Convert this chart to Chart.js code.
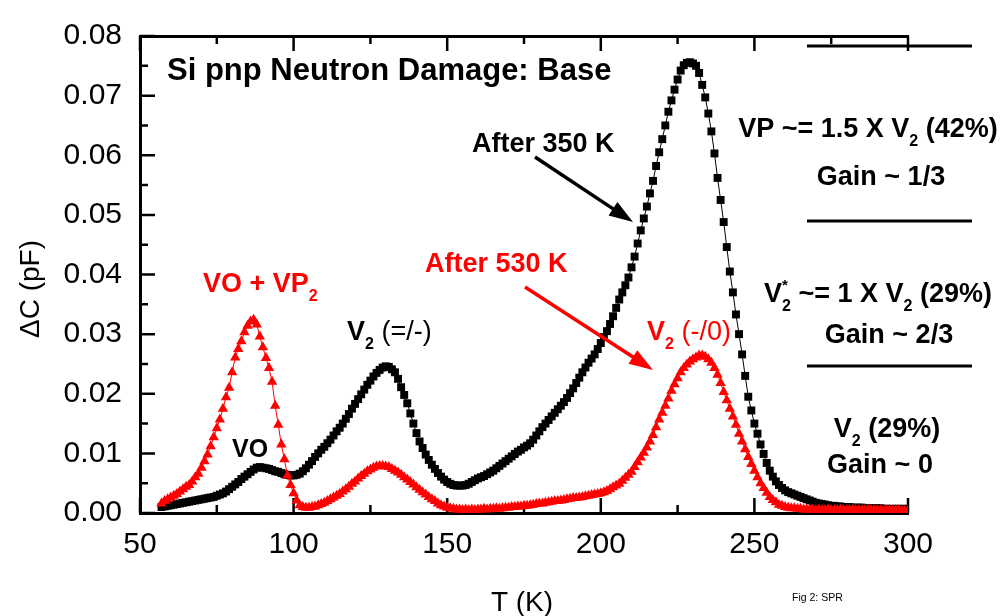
<!DOCTYPE html>
<html>
<head>
<meta charset="utf-8">
<title>Si pnp Neutron Damage: Base</title>
<script src="https://cdn.jsdelivr.net/npm/chart.js@4.4.1/dist/chart.umd.min.js"></script>
<style>
    html, body { margin: 0; padding: 0; background: #fff; }
</style>
</head>
<body>
<canvas id="dlts-chart" width="1003" height="616"></canvas>
<script>
/* DLTS spectra — Si pnp base, neutron damage */
/* global Chart */

// =========================================================
// Data
// =========================================================
var temps = [
    57, 58, 59,
    60, 61, 62, 63, 64, 65, 66, 67, 68, 69,
    70, 71, 72, 73, 74, 75, 76, 77, 78, 79,
    80, 81, 82, 83, 84, 85, 86, 87, 88, 89,
    90, 91, 92, 93, 94, 95, 96, 97, 98, 99,
    100, 101, 102, 103, 104, 105, 106, 107, 108, 109,
    110, 111, 112, 113, 114, 115, 116, 117, 118, 119,
    120, 121, 122, 123, 124, 125, 126, 127, 128, 129,
    130, 131, 132, 133, 134, 135, 136, 137, 138, 139,
    140, 141, 142, 143, 144, 145, 146, 147, 148, 149,
    150, 151, 152, 153, 154, 155, 156, 157, 158, 159,
    160, 161, 162, 163, 164, 165, 166, 167, 168, 169,
    170, 171, 172, 173, 174, 175, 176, 177, 178, 179,
    180, 181, 182, 183, 184, 185, 186, 187, 188, 189,
    190, 191, 192, 193, 194, 195, 196, 197, 198, 199,
    200, 201, 202, 203, 204, 205, 206, 207, 208, 209,
    210, 211, 212, 213, 214, 215, 216, 217, 218, 219,
    220, 221, 222, 223, 224, 225, 226, 227, 228, 229,
    230, 231, 232, 233, 234, 235, 236, 237, 238, 239,
    240, 241, 242, 243, 244, 245, 246, 247, 248, 249,
    250, 251, 252, 253, 254, 255, 256, 257, 258, 259,
    260, 261, 262, 263, 264, 265, 266, 267, 268, 269,
    270, 271, 272, 273, 274, 275, 276, 277, 278, 279,
    280, 281, 282, 283, 284, 285, 286, 287, 288, 289,
    290, 291, 292, 293, 294, 295, 296, 297, 298, 299,
    300
];

// After 350 K anneal (black squares), delta C in pF
var after350 = [
    0.0010, 0.0011, 0.0012,
    0.0013, 0.0014, 0.0015, 0.0016, 0.0017, 0.0018, 0.0019, 0.0020, 0.0021, 0.0022,
    0.0023, 0.0024, 0.0025, 0.0026, 0.0027, 0.0029, 0.0031, 0.0033, 0.0036, 0.0040,
    0.0044, 0.0048, 0.0052, 0.0057, 0.0061, 0.0065, 0.0069, 0.0073, 0.0076, 0.0077,
    0.0076, 0.0075, 0.0074, 0.0072, 0.0070, 0.0069, 0.0067, 0.0065, 0.0064, 0.0063,
    0.0063, 0.0064, 0.0066, 0.0070, 0.0075, 0.0081, 0.0087, 0.0094, 0.0100, 0.0106,
    0.0111, 0.0117, 0.0123, 0.0130, 0.0137, 0.0143, 0.0150, 0.0158, 0.0166, 0.0175,
    0.0183, 0.0191, 0.0199, 0.0207, 0.0215, 0.0222, 0.0229, 0.0235, 0.0240, 0.0244,
    0.0246, 0.0245, 0.0241, 0.0236, 0.0225, 0.0211, 0.0198, 0.0184, 0.0167, 0.0150,
    0.0134, 0.0120, 0.0109, 0.0098, 0.0089, 0.0081, 0.0074, 0.0067, 0.0061, 0.0056,
    0.0052, 0.0049, 0.0047, 0.0046, 0.0046, 0.0046, 0.0047, 0.0049, 0.0052, 0.0055,
    0.0058, 0.0060, 0.0062, 0.0065, 0.0068, 0.0071, 0.0075, 0.0079, 0.0083, 0.0087,
    0.0091, 0.0095, 0.0099, 0.0103, 0.0106, 0.0110, 0.0113, 0.0117, 0.0123, 0.0130,
    0.0137, 0.0144, 0.0150, 0.0156, 0.0162, 0.0168, 0.0174, 0.0180, 0.0186, 0.0193,
    0.0201, 0.0209, 0.0218, 0.0227, 0.0236, 0.0244, 0.0252, 0.0259, 0.0266, 0.0275,
    0.0285, 0.0295, 0.0305, 0.0317, 0.0330, 0.0344, 0.0358, 0.0370, 0.0382, 0.0395,
    0.0412, 0.0430, 0.0452, 0.0474, 0.0494, 0.0514, 0.0536, 0.0557, 0.0582, 0.0605,
    0.0627, 0.0650, 0.0673, 0.0692, 0.0710, 0.0727, 0.0742, 0.0751, 0.0755, 0.0756,
    0.0754, 0.0750, 0.0738, 0.0718, 0.0697, 0.0670, 0.0640, 0.0603, 0.0562, 0.0525,
    0.0488, 0.0446, 0.0405, 0.0370, 0.0333, 0.0300, 0.0266, 0.0230, 0.0195, 0.0172,
    0.0150, 0.0133, 0.0115, 0.0099, 0.0084, 0.0071, 0.0061, 0.0053, 0.0047, 0.0042,
    0.0038, 0.0035, 0.0033, 0.0031, 0.0029, 0.0027, 0.0025, 0.0023, 0.0021, 0.0019,
    0.0017, 0.0016, 0.0015, 0.0014, 0.0013, 0.0012, 0.0012, 0.0011, 0.0011, 0.0010,
    0.0010, 0.0010, 0.0009, 0.0009, 0.0009, 0.0009, 0.0008, 0.0008, 0.0008, 0.0008,
    0.0008, 0.0008, 0.0007, 0.0007, 0.0007, 0.0007, 0.0007, 0.0007, 0.0007, 0.0007,
    0.0007
];

// After 530 K anneal (red triangles), delta C in pF
var after530 = [
    0.0016, 0.0020, 0.0023,
    0.0026, 0.0029, 0.0032, 0.0036, 0.0040, 0.0044, 0.0047, 0.0053, 0.0060, 0.0066,
    0.0076, 0.0087, 0.0098, 0.0112, 0.0127, 0.0142, 0.0157, 0.0175, 0.0194, 0.0210,
    0.0236, 0.0261, 0.0275, 0.0288, 0.0303, 0.0314, 0.0321, 0.0324, 0.0316, 0.0296,
    0.0278, 0.0260, 0.0243, 0.0220, 0.0180, 0.0148, 0.0115, 0.0090, 0.0063, 0.0047,
    0.0033, 0.0021, 0.0013, 0.0010, 0.0009, 0.0009, 0.0010, 0.0011, 0.0013, 0.0015,
    0.0017, 0.0020, 0.0023, 0.0026, 0.0029, 0.0032, 0.0036, 0.0040, 0.0044, 0.0049,
    0.0053, 0.0058, 0.0062, 0.0066, 0.0070, 0.0073, 0.0076, 0.0078, 0.0079, 0.0079,
    0.0078, 0.0077, 0.0074, 0.0071, 0.0068, 0.0064, 0.0060, 0.0056, 0.0052, 0.0048,
    0.0043, 0.0039, 0.0035, 0.0031, 0.0027, 0.0023, 0.0020, 0.0016, 0.0013, 0.0011,
    0.0009, 0.0008, 0.0007, 0.0006, 0.0006, 0.0005, 0.0006, 0.0005, 0.0006, 0.0005,
    0.0006, 0.0006, 0.0007, 0.0006, 0.0007, 0.0007, 0.0008, 0.0007, 0.0008, 0.0009,
    0.0009, 0.0010, 0.0010, 0.0011, 0.0011, 0.0012, 0.0012, 0.0013, 0.0014, 0.0015,
    0.0016, 0.0016, 0.0017, 0.0018, 0.0019, 0.0020, 0.0020, 0.0021, 0.0022, 0.0023,
    0.0024, 0.0025, 0.0025, 0.0026, 0.0027, 0.0028, 0.0029, 0.0030, 0.0031, 0.0032,
    0.0033, 0.0035, 0.0037, 0.0040, 0.0043, 0.0046, 0.0049, 0.0054, 0.0059, 0.0064,
    0.0069, 0.0077, 0.0085, 0.0093, 0.0101, 0.0110, 0.0120, 0.0131, 0.0144, 0.0157,
    0.0168, 0.0180, 0.0192, 0.0205, 0.0216, 0.0226, 0.0236, 0.0243, 0.0249, 0.0254,
    0.0258, 0.0261, 0.0264, 0.0264, 0.0262, 0.0258, 0.0252, 0.0243, 0.0232, 0.0218,
    0.0203, 0.0189, 0.0175, 0.0162, 0.0148, 0.0133, 0.0120, 0.0107, 0.0094, 0.0082,
    0.0071, 0.0060, 0.0050, 0.0042, 0.0034, 0.0027, 0.0022, 0.0018, 0.0014, 0.0012,
    0.0010, 0.0009, 0.0008, 0.0008, 0.0007, 0.0007, 0.0006, 0.0006, 0.0006, 0.0006,
    0.0005, 0.0006, 0.0005, 0.0005, 0.0006, 0.0005, 0.0005, 0.0005, 0.0006, 0.0005,
    0.0005, 0.0005, 0.0006, 0.0005, 0.0005, 0.0005, 0.0005, 0.0006, 0.0005, 0.0005,
    0.0005, 0.0005, 0.0004, 0.0005, 0.0005, 0.0004, 0.0005, 0.0005, 0.0004, 0.0004,
    0.0004
];

var xTicks = [50, 100, 150, 200, 250, 300];
var yTicks = [0.00, 0.01, 0.02, 0.03, 0.04, 0.05, 0.06, 0.07, 0.08];

(function () {
    'use strict';

    var FONT = '"Liberation Sans", Arial, Helvetica, sans-serif';
    var RED  = '#ff0000';

    function pairs(xs, ys) {
        return xs.map(function (x, i) { return { x: x, y: ys[i] }; });
    }

    function midpoints(list) {
        var out = [];
        for (var i = 1; i < list.length; i++) out.push((list[i - 1] + list[i]) / 2);
        return out;
    }

    // =========================================================
    // Inward ticks on left, bottom and top edges
    // =========================================================
    var frameTicks = {
        id: 'frameTicks',
        beforeDatasetsDraw: function (chart) {
            var ctx  = chart.ctx;
            var area = chart.chartArea;
            var sx   = chart.scales.x;
            var sy   = chart.scales.y;

            ctx.save();
            ctx.strokeStyle = '#000';
            ctx.lineWidth   = 2.5;
            ctx.beginPath();

            function xTick(v, len) {
                var px = sx.getPixelForValue(v);
                ctx.moveTo(px, area.bottom); ctx.lineTo(px, area.bottom - len);
                ctx.moveTo(px, area.top);    ctx.lineTo(px, area.top + len);
            }
            function yTick(v, len) {
                var py = sy.getPixelForValue(v);
                ctx.moveTo(area.left, py); ctx.lineTo(area.left + len, py);
            }

            xTicks.forEach(function (v) { xTick(v, 15); });
            midpoints(xTicks).forEach(function (v) { xTick(v, 8); });
            yTicks.forEach(function (v) { yTick(v, 15); });
            midpoints(yTicks).forEach(function (v) { yTick(v, 8); });

            ctx.stroke();
            ctx.restore();
        }
    };

    // =========================================================
    // Text labels, arrows, separators
    // =========================================================
    // parts: [text, kind]  b = bold, n = normal, s = bold subscript, p = bold superscript (no advance)
    var notes = [
        { parts: [['Si pnp Neutron Damage: Base', 'b']], x: 167, y: 80, size: 31, color: '#000' },
        { parts: [['After 350 K', 'b']], x: 472, y: 152, size: 27, color: '#000' },
        { parts: [['After 530 K', 'b']], x: 425, y: 272, size: 27, color: RED },
        { parts: [['VO + VP', 'b'], ['2', 's']], x: 203, y: 292, size: 27, color: RED },
        { parts: [['V', 'b'], ['2', 's'], [' (=/-)', 'n']], x: 347, y: 340, size: 27, color: '#000' },
        { parts: [['V', 'b'], ['2', 's'], [' (-/0)', 'n']], x: 647, y: 340, size: 27, color: RED },
        { parts: [['VO', 'b']], x: 232, y: 457, size: 25, color: '#000' },
        { parts: [['VP ~= 1.5 X V', 'b'], ['2', 's'], [' (42%)', 'b']], cx: 868, y: 137, size: 27, color: '#000' },
        { parts: [['Gain ~ 1/3', 'b']], cx: 881, y: 185, size: 27, color: '#000' },
        { parts: [['V', 'b'], ['*', 'p'], ['2', 's'], [' ~= 1 X V', 'b'], ['2', 's'], [' (29%)', 'b']], cx: 878, y: 302, size: 27, color: '#000' },
        { parts: [['Gain ~ 2/3', 'b']], cx: 889, y: 343, size: 27, color: '#000' },
        { parts: [['V', 'b'], ['2', 's'], [' (29%)', 'b']], cx: 887, y: 437, size: 27, color: '#000' },
        { parts: [['Gain ~ 0', 'b']], cx: 880, y: 473, size: 27, color: '#000' },
        { parts: [['Fig 2: SPR', 'n']], x: 792, y: 601, size: 10.5, color: '#000' },
        { parts: [['T (K)', 'n']], cx: 522, y: 611, size: 28, color: '#000' }
    ];

    var arrows = [
        { from: [535, 157], to: [633, 222], color: '#000' },
        { from: [525, 287], to: [653, 370], color: RED }
    ];

    var separators = [46, 221, 366];

    function partFont(kind, size) {
        if (kind === 's') return 'bold ' + Math.round(size * 0.6) + 'px ' + FONT;
        if (kind === 'p') return 'bold ' + Math.round(size * 0.55) + 'px ' + FONT;
        return (kind === 'b' ? 'bold ' : '') + size + 'px ' + FONT;
    }

    function richWidth(ctx, note) {
        var w = 0;
        note.parts.forEach(function (p) {
            if (p[1] === 'p') return;
            ctx.font = partFont(p[1], note.size);
            w += ctx.measureText(p[0]).width;
        });
        return w;
    }

    function drawRich(ctx, note) {
        var x = note.x !== undefined ? note.x : note.cx - richWidth(ctx, note) / 2;
        ctx.fillStyle = note.color;
        ctx.textAlign = 'left';
        ctx.textBaseline = 'alphabetic';
        note.parts.forEach(function (p) {
            var kind = p[1], y = note.y;
            ctx.font = partFont(kind, note.size);
            if (kind === 's') y += note.size * 0.34;
            if (kind === 'p') y -= note.size * 0.45;
            ctx.fillText(p[0], x, y);
            if (kind !== 'p') x += ctx.measureText(p[0]).width;
        });
    }

    function drawArrow(ctx, a) {
        var dx = a.to[0] - a.from[0], dy = a.to[1] - a.from[1];
        var len = Math.sqrt(dx * dx + dy * dy);
        var ux = dx / len, uy = dy / len;
        var head = 24, half = 8;
        var bx = a.to[0] - ux * head, by = a.to[1] - uy * head;

        ctx.strokeStyle = a.color;
        ctx.fillStyle   = a.color;
        ctx.lineWidth   = 3.5;
        ctx.beginPath();
        ctx.moveTo(a.from[0], a.from[1]);
        ctx.lineTo(bx + ux * 2, by + uy * 2);
        ctx.stroke();

        ctx.beginPath();
        ctx.moveTo(a.to[0], a.to[1]);
        ctx.lineTo(bx - uy * half, by + ux * half);
        ctx.lineTo(bx + uy * half, by - ux * half);
        ctx.closePath();
        ctx.fill();
    }

    var annotations = {
        id: 'annotations',
        afterDraw: function (chart) {
            var ctx = chart.ctx;
            ctx.save();

            notes.forEach(function (n) { drawRich(ctx, n); });
            arrows.forEach(function (a) { drawArrow(ctx, a); });

            ctx.strokeStyle = '#000';
            ctx.lineWidth = 3;
            ctx.beginPath();
            separators.forEach(function (y) {
                ctx.moveTo(807, y); ctx.lineTo(972, y);
            });
            ctx.stroke();

            // y axis title, rotated
            ctx.translate(39, 289);
            ctx.rotate(-Math.PI / 2);
            ctx.fillStyle = '#000';
            ctx.font = '28px ' + FONT;
            ctx.textAlign = 'center';
            ctx.textBaseline = 'alphabetic';
            ctx.fillText('\u0394C (pF)', 0, 0);

            ctx.restore();
        }
    };

    // =========================================================
    // Chart
    // =========================================================
    function initChart() {
        var canvas = document.getElementById('dlts-chart');
        if (!canvas) return;

        new Chart(canvas, {
            type: 'line',
            data: {
                datasets: [
                    {
                        label:                'After 530 K',
                        data:                 pairs(temps, after530),
                        borderColor:          RED,
                        backgroundColor:      RED,
                        borderWidth:          1,
                        pointStyle:           'triangle',
                        pointRadius:          6,
                        pointBorderWidth:     0,
                        pointBackgroundColor: RED,
                        tension:              0,
                    },
                    {
                        label:                'After 350 K',
                        data:                 pairs(temps, after350),
                        borderColor:          '#000',
                        backgroundColor:      '#000',
                        borderWidth:          1,
                        pointStyle:           'rect',
                        pointRadius:          5.6,
                        pointBorderWidth:     0,
                        pointBackgroundColor: '#000',
                        tension:              0,
                    },
                ],
            },
            options: {
                responsive: false,
                animation:  false,
                events:     [],
                layout: { padding: { left: 0, right: 95, top: 0, bottom: 0 } },
                plugins: {
                    legend:  { display: false },
                    tooltip: { enabled: false },
                },
                scales: {
                    x: {
                        type: 'linear',
                        position: 'bottom',
                        min: 50,
                        max: 300,
                        afterBuildTicks: function (s) {
                            s.ticks = xTicks.map(function (v) { return { value: v }; });
                        },
                        afterFit: function (s) { s.height = 103; },
                        grid:   { display: false, drawTicks: false },
                        border: { display: true, color: '#000', width: 3 },
                        ticks:  {
                            color: '#000',
                            padding: 14,
                            maxRotation: 0,
                            autoSkip: false,
                            font: { family: FONT, size: 30 },
                        },
                    },
                    x2: {
                        type: 'linear',
                        position: 'top',
                        min: 50,
                        max: 300,
                        afterFit: function (s) { s.height = 22; },
                        grid:   { display: false, drawTicks: false },
                        border: { display: true, color: '#000', width: 3 },
                        ticks:  { display: false },
                    },
                    y: {
                        type: 'linear',
                        position: 'left',
                        min: 0,
                        max: 0.08,
                        afterBuildTicks: function (s) {
                            s.ticks = yTicks.map(function (v) { return { value: v }; });
                        },
                        afterFit: function (s) { s.width = 140; },
                        grid:   { display: false, drawTicks: false },
                        border: { display: true, color: '#000', width: 3 },
                        ticks:  {
                            color: '#000',
                            padding: 18,
                            font: { family: FONT, size: 30 },
                            callback: function (v) { return Number(v).toFixed(2); },
                        },
                    },
                },
            },
            plugins: [frameTicks, annotations],
        });
    }

    initChart();

}());
</script>
</body>
</html>
